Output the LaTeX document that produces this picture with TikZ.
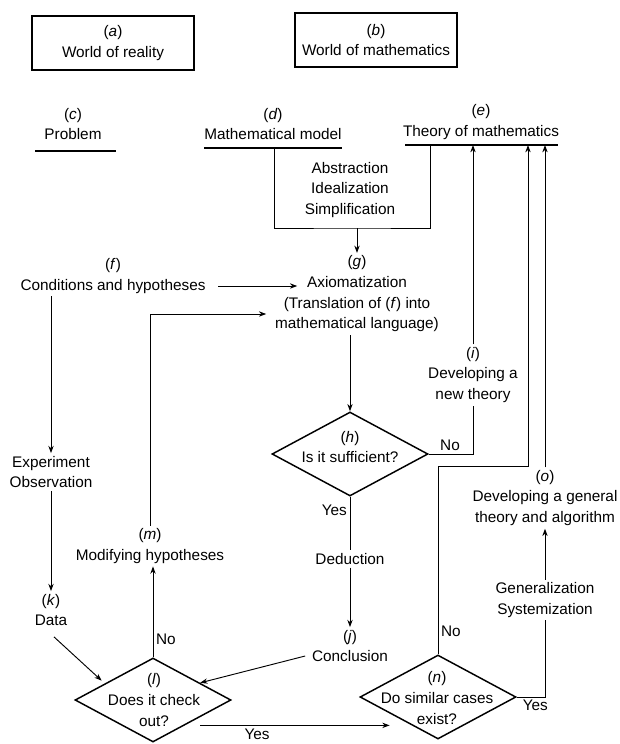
\documentclass[tikz,border=0pt]{standalone}
\usepackage{fontspec}
\setmainfont{Liberation Sans}
\usetikzlibrary{arrows.meta,shapes.geometric}

\tikzset{
  txt/.style={font=\fontsize{11.5}{15.5}\selectfont, align=center, inner sep=2pt},
  world/.style={txt, draw, line width=1.3pt, minimum width=122pt, minimum height=40pt},
  query/.style={draw, diamond, line width=1.1pt, minimum width=117pt, minimum height=63pt, inner sep=0pt},
  rule/.style={line width=1.3pt},
  flow/.style={line width=0.7pt},
  arr/.style={flow, -{Stealth[length=5.5pt,width=4pt]}},
}

\begin{document}
\begin{tikzpicture}[x=0.75pt,y=-0.75pt]
  \useasboundingbox (0,0) rectangle (619,744);
  \node[world] (a) at (113,43) {(\textit{a})\\World of reality};
  \node[world] (b) at (376,40) {(\textit{b})\\World of mathematics};

  \node[txt] (c) at (73,124) {(\textit{c})\\Problem};
  \node[txt] (d) at (273,124) {(\textit{d})\\Mathematical model};
  \node[txt] (e) at (481,122) {(\textit{e})\\Theory of mathematics};
  \draw[rule] (35,151) -- (116,151);
  \draw[rule] (204,148) -- (342,148);
  \draw[rule] (405,145) -- (558,145);
  \coordinate (d-foot) at (274,148);
  \coordinate (e-foot) at (430,145);
  \coordinate (e-top) at (528,145);

  \node[txt] (abs) at (350,190) {Abstraction\\Idealization\\Simplification};
  \coordinate (abs-base) at (352,228);
  \node[txt] (g) at (357,294) {(\textit{g})\\Axiomatization\\(Translation of (\textit{f}) into\\mathematical language)};
  \node[txt] (f) at (113,276) {(\textit{f})\\Conditions and hypotheses};
  \node[txt] (x) at (51,472) {Experiment\\Observation};
  \node[txt] (k) at (51,610) {(\textit{k})\\Data};
  \node[txt] (m) at (150,546) {(\textit{m})\\Modifying hypotheses};
  \node[query] (l) at (153,700) {};
  \node[txt] (l-txt) at (154,700) {(\textit{l})\\Does it check\\out?};
  \node[query] (h) at (350,454) {};
  \node[txt] (h-txt) at (350,447) {(\textit{h})\\Is it sufficient?};
  \node[txt] (i) at (473,375) {(\textit{i})\\Developing a\\new theory};
  \node[txt] (ded) at (350,559) {Deduction};
  \node[txt] (j) at (350,646) {(\textit{j})\\Conclusion};
  \node[query] (n) at (438,697) {};
  \node[txt] (n-txt) at (437,698) {(\textit{n})\\Do similar cases\\exist?};
  \node[txt] (o) at (545,498) {(\textit{o})\\Developing a general\\theory and algorithm};
  \node[txt] (gen) at (545,600) {Generalization\\Systemization};

  \draw[flow] (d-foot) |- (abs-base) -| (e-foot);
  \draw[arr] (g.north |- abs-base) -- (g.north);
  \draw[arr] ([shift={(10,10)}]f.east) -- ([shift={(25,-8)}]g.west);
  \draw[arr] (f.south -| x.north) -- (x.north);
  \draw[arr] (x.south) -- (k.north);
  \draw[arr] ([shift={(3,8)}]k.south) -- ([shift={(-12,2)}]l.north west);
  \draw[arr] (l.north) -- node[txt,pos=0.2,right] {No} (l.north |- m.south);
  \draw[arr] (m.north) |- ([shift={(-6,20)}]g.west);
  \draw[arr] (h.north |- g.south) -- (h.north);
  \draw[flow] (h.east) -| node[txt,pos=0.24,above] {No} (i.south);
  \draw[arr] (i.north) -- (i.north |- e-foot);
  \draw[flow] (h.south) -- node[txt,pos=0.26,left] {Yes} (ded.north);
  \draw[arr] (ded.south) -- (j.north);
  \draw[arr] ([shift={(-4,10)}]j.west) -- (l.20);
  \draw[arr] ([shift={(8,4)}]l.south east) -- node[txt,pos=0.3,below] {Yes} ([shift={(-9,7)}]n.south west);
  \draw[arr] (n.north) -- node[txt,pos=0.12,right] {No} ++(0,-188) -| (e-top);
  \draw[flow] (n.east) -| node[txt,pos=0.33,below] {Yes} (gen.south);
  \draw[arr] (gen.north) -- (o.south);
  \draw[arr] (o.north) -- (o.north |- e-foot);
\end{tikzpicture}
\end{document}
